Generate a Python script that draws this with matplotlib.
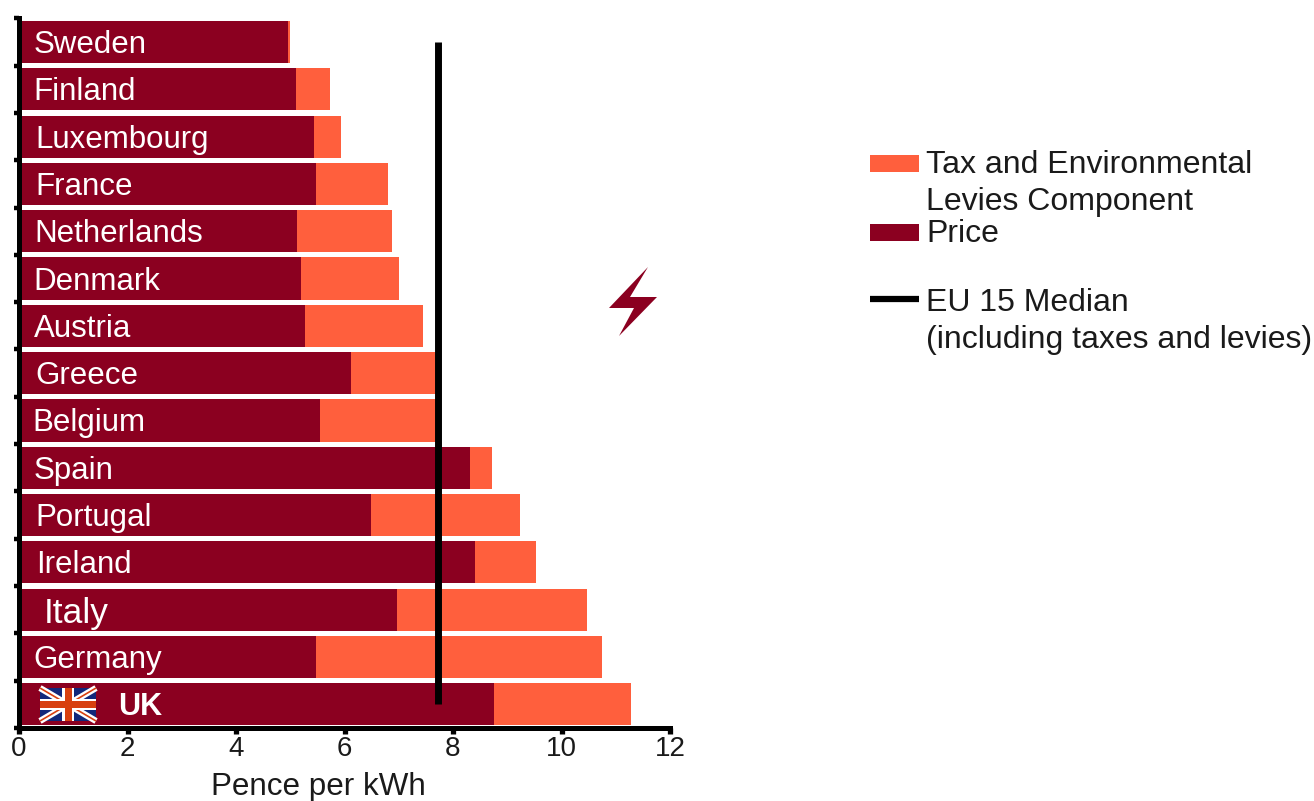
import matplotlib
matplotlib.use("Agg")
import matplotlib.pyplot as plt
from matplotlib.patches import Polygon, Rectangle

plt.rcParams['font.family'] = ['Liberation Sans', 'DejaVu Sans']

countries = ["Sweden", "Finland", "Luxembourg", "France", "Netherlands", "Denmark", "Austria",
             "Greece", "Belgium", "Spain", "Portugal", "Ireland", "Italy", "Germany", "UK"]
price = [4.96, 5.10, 5.44, 5.47, 5.12, 5.20, 5.27, 6.12, 5.55, 8.31, 6.49, 8.41, 6.97, 5.47, 8.76]
total = [5.00, 5.73, 5.94, 6.80, 6.88, 7.00, 7.45, 7.70, 7.70, 8.72, 9.24, 9.53, 10.47, 10.75, 11.28]
tax = [t - p for t, p in zip(total, price)]
median = 7.72
xticks = [0, 2, 4, 6, 8, 10, 12]

# where each country name starts, pixels, they were placed by hand in the original
label_px = [34, 33, 35, 35, 34, 33, 34, 35, 32, 34, 35, 36, 44, 33, 118]

W, H = 1314, 801
DARK = "#8B0020"
ORANGE = "#FF5F3D"
INK = "#1a1a1a"

fig = plt.figure(figsize=(W / 100, H / 100), dpi=100)
left, right, top, bottom = 19, 670, 18.3, 728
ax = fig.add_axes([left / W, 1 - bottom / H, (right - left) / W, (bottom - top) / H])

ypos = list(range(len(countries)))
ax.barh(ypos, price, height=0.89, color=DARK, zorder=2)
ax.barh(ypos, tax, left=price, height=0.89, color=ORANGE, zorder=2)
ax.plot([median, median], [0, 14], color="black", lw=5, solid_capstyle="butt", zorder=3)

ax.set_xlim(0, 12)
ax.set_ylim(14.5, -0.5)
ax.set_xticks(xticks)
ax.set_yticks([i - 0.5 for i in range(len(countries) + 1)])
ax.set_yticklabels([])
ax.tick_params(axis="x", length=4, width=3.8, labelsize=20, pad=2, labelcolor=INK)
ax.tick_params(axis="y", length=3.5, width=3.2)
for s in ["top", "right"]:
    ax.spines[s].set_visible(False)
for s in ["left", "bottom"]:
    ax.spines[s].set_linewidth(3.6)
ax.set_xlabel("Pence per kWh", fontsize=22.6, color=INK)
ax.xaxis.set_label_coords((318.5 - left) / (right - left), -0.062)

# overlay in pixel coords for labels, legend, flag and bolt
ov = fig.add_axes([0, 0, 1, 1], zorder=5)
ov.set_xlim(0, W)
ov.set_ylim(H, 0)
ov.axis("off")

for i, name in enumerate(countries):
    y = top + (i + 0.5) * (bottom - top) / 15 + 3
    if name == "UK":
        ov.text(label_px[i], y, name, color="white", fontsize=22, fontweight="bold", va="center")
    elif name == "Italy":
        ov.text(label_px[i], y + 1, name, color="white", fontsize=25.5, va="center")
    else:
        ov.text(label_px[i], y, name, color="white", fontsize=22.5, va="center")

# flag
fx0, fx1, fy0, fy1 = 40, 96, 688, 721
FB = "#12287A"
FR = "#D8400F"
ov.add_patch(Rectangle((fx0, fy0), fx1 - fx0, fy1 - fy0, color=FB, lw=0))
ov.plot([fx0, fx1], [fy0, fy1], color="white", lw=4.5, solid_capstyle="butt", zorder=2)
ov.plot([fx0, fx1], [fy1, fy0], color="white", lw=4.5, solid_capstyle="butt", zorder=2)
ov.plot([fx0, fx1], [fy0, fy1], color=FR, lw=1.2, solid_capstyle="butt", zorder=2)
ov.plot([fx0, fx1], [fy1, fy0], color=FR, lw=1.2, solid_capstyle="butt", zorder=2)
ov.add_patch(Rectangle((fx0, 699), fx1 - fx0, 11, color="white", lw=0, zorder=3))
ov.add_patch(Rectangle((62, fy0), 12, fy1 - fy0, color="white", lw=0, zorder=3))
ov.add_patch(Rectangle((fx0, 701), fx1 - fx0, 7, color=FR, lw=0, zorder=4))
ov.add_patch(Rectangle((64.5, fy0), 7, fy1 - fy0, color=FR, lw=0, zorder=4))

# lightning bolt
ov.add_patch(Polygon([(648, 267), (630, 297), (657, 297), (619, 336), (634, 308), (609, 308)],
                     closed=True, color=DARK, lw=0))

# legend
ov.add_patch(Rectangle((870, 155), 49, 17, color=ORANGE, lw=0))
ov.add_patch(Rectangle((870, 224), 49, 17, color=DARK, lw=0))
ov.plot([870, 919], [299, 299], color="black", lw=4.5, solid_capstyle="butt")
legend_texts = [("Tax and Environmental", 165), ("Levies Component", 202), ("Price", 234),
                ("EU 15 Median", 303), ("(including taxes and levies)", 340)]
for txt, y in legend_texts:
    ov.text(926, y, txt, fontsize=23, color=INK, va="center")

fig.savefig("out.png", dpi=100)
